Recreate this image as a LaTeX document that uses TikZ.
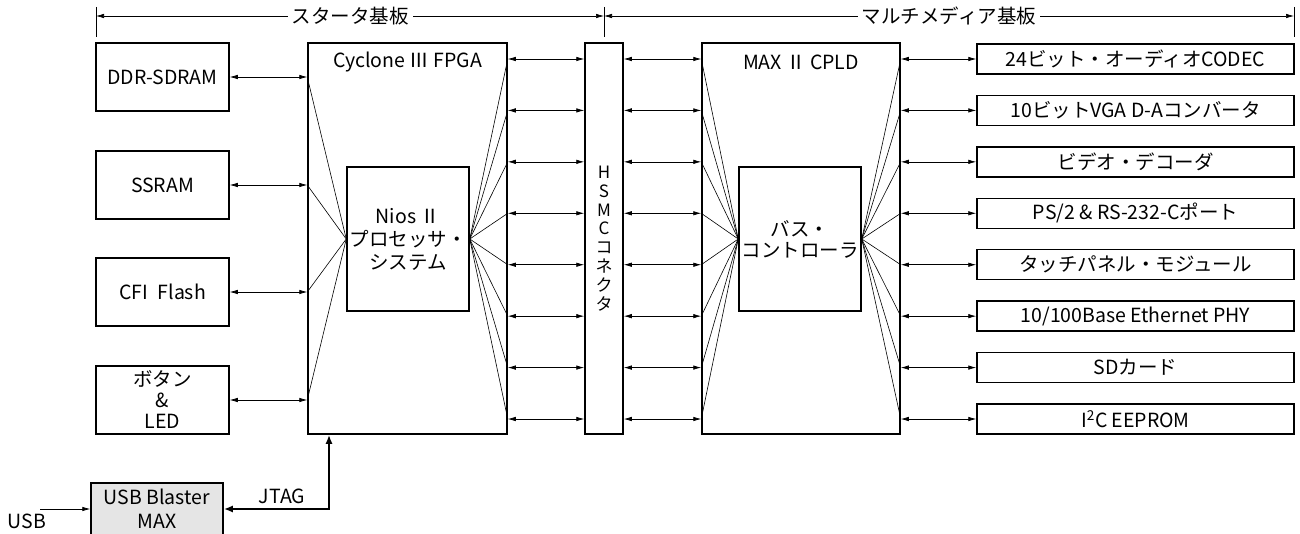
\documentclass[tikz,border=0pt]{standalone}
\usepackage{fontspec}
\setmainfont{Noto Sans CJK JP}
\usetikzlibrary{arrows.meta, positioning}

\begin{document}
\begin{tikzpicture}[
    x=1pt, y=-1pt,
    % ---------------------------------------------------------
    % STYLES
    % ---------------------------------------------------------
    every node/.style={font=\fontsize{19.5}{21}\selectfont},
    blk/.style={draw, line width=1.5pt, inner sep=0pt, align=center},
    mem/.style={blk, minimum width=133pt, minimum height=68pt},
    dev/.style={blk, minimum width=317pt, minimum height=30pt},
    chip/.style={blk, minimum width=199pt, minimum height=391pt},
    core/.style={blk, minimum width=122pt, minimum height=144pt},
    link/.style={line width=0.7pt, {Latex[length=8pt,width=4.5pt]}-{Latex[length=8pt,width=4.5pt]}},
    fan/.style={line width=0.6pt},
    dimline/.style={line width=0.7pt, {Latex[length=8pt,width=4.5pt]}-{Latex[length=8pt,width=4.5pt]}},
    dimlabel/.style={fill=white, inner sep=4pt},
    jtagline/.style={line width=2.4pt, {Latex[length=9pt,width=7pt]}-{Latex[length=9pt,width=7pt]}}
]
\useasboundingbox (0,0) rectangle (1300,534);
\clip (0,0) rectangle (1300,534);

% ---------------------------------------------------------
% 1. STARTER BOARD
% ---------------------------------------------------------
\node[mem] (ddr)   at (162.5,77)  {DDR-SDRAM};
\node[mem] (ssram) at (162.5,185) {SSRAM};
\node[mem] (cfi)   at (162.5,292) {CFI\enspace Flash};
\node[mem] (btn)   at (162.5,400) {ボタン\\\&\\LED};

\node[chip] (fpga) at (407.5,238.5) {};
\node (fpgattl) at (407.5,62) {Cyclone Ⅲ FPGA};
\node[core, font=\fontsize{19.5}{23}\selectfont] (nios) at (408,239) {Nios Ⅱ\\プロセッサ・\\システム};

% HSMC connector
\node[blk, minimum width=38pt, minimum height=391pt, font=\fontsize{17}{18.9}\selectfont]
    (hsmc) at (604,238.5) {H\\S\\M\\C\\コ\\ネ\\ク\\タ};

% ---------------------------------------------------------
% 2. MULTIMEDIA BOARD
% ---------------------------------------------------------
\node[chip, minimum width=198pt] (cpld) at (801,238.5) {};
\node (cpldttl) at (801,62) {MAX Ⅱ CPLD};
\node[core] (bus) at (800,239) {バス・\\コントローラ};

\foreach \name [count=\i] in {{24ビット・オーディオCODEC}, {10ビットVGA D-Aコンバータ},
    {ビデオ・デコーダ}, {PS/2 \& RS-232-Cポート}, {タッチパネル・モジュール},
    {10/100Base Ethernet PHY}, {SDカード}, {I\textsuperscript{2}C EEPROM}}
    \node[dev] (dev\i) at (1135.5,{59+51.43*(\i-1)}) {\name};

% ---------------------------------------------------------
% 3. USB BLASTER
% ---------------------------------------------------------
\node[blk, fill=black!10, minimum width=132pt, minimum height=52pt, font=\fontsize{19.5}{24}\selectfont]
    (usb) at (157,509) {USB Blaster\\MAX};
\coordinate (usbsrc) at (40,509);
\node (usblbl) at (27,521) {USB};
\coordinate (jtag) at ([xshift=-78.5pt]fpga.south);
\node (jtaglbl) at (282,496) {JTAG};

% ---------------------------------------------------------
% 4. CONNECTIONS
% ---------------------------------------------------------
\foreach \m in {ddr,ssram,cfi,btn} {
    \draw[link] (\m.east) -- (\m.east -| fpga.west);
    \draw[fan] (nios.west) -- (\m.east -| fpga.west);
}
\foreach \i in {1,...,8} {
    \draw[fan] (nios.east) -- (dev\i.west -| fpga.east);
    \draw[link] (dev\i.west -| fpga.east) -- (dev\i.west -| hsmc.west);
    \draw[link] (dev\i.west -| hsmc.east) -- (dev\i.west -| cpld.west);
    \draw[fan] (bus.west) -- (dev\i.west -| cpld.west);
    \draw[fan] (bus.east) -- (dev\i.west -| cpld.east);
    \draw[link] (dev\i.west -| cpld.east) -- (dev\i.west);
}

\draw[jtagline] (usb.east) -| (jtag);
\draw[line width=0.7pt, -{Latex[length=8pt,width=4.5pt]}] (usbsrc) -- (usb.west);

% ---------------------------------------------------------
% 5. BOARD DIMENSIONS
% ---------------------------------------------------------
\coordinate (dimL) at (96,16);
\coordinate (dimM) at (604,16);
\coordinate (dimR) at (1294,16);
\foreach \c in {dimL,dimM,dimR}
    \draw[line width=0.7pt] ([yshift=9pt]\c) -- ([yshift=-21pt]\c);
\draw[dimline] (dimL) -- node[dimlabel] {スタータ基板} (dimM);
\draw[dimline] (dimM) -- node[dimlabel] {マルチメディア基板} (dimR);

\end{tikzpicture}
\end{document}
